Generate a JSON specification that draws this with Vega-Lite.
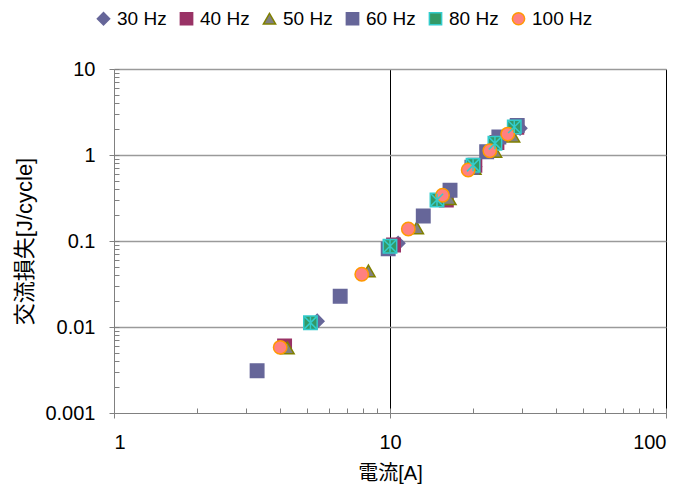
{
  "$schema": "https://vega.github.io/schema/vega-lite/v6.json",
  "width": 552,
  "height": 344,
  "autosize": "none",
  "padding": {"left": 114, "top": 69, "right": 18, "bottom": 78},
  "background": "white",
  "config": {
    "view": {"stroke": null}
  },
  "data": {"values": [
    {"freq": "30 Hz", "I": 5.45, "P": 0.0117},
    {"freq": "30 Hz", "I": 10.7, "P": 0.094},
    {"freq": "30 Hz", "I": 16.0, "P": 0.33},
    {"freq": "30 Hz", "I": 20.3, "P": 0.73},
    {"freq": "30 Hz", "I": 24.6, "P": 1.4},
    {"freq": "30 Hz", "I": 29.6, "P": 2.05},
    {"freq": "40 Hz", "I": 4.15, "P": 0.006},
    {"freq": "40 Hz", "I": 10.3, "P": 0.09},
    {"freq": "40 Hz", "I": 16.0, "P": 0.3},
    {"freq": "40 Hz", "I": 20.3, "P": 0.76},
    {"freq": "40 Hz", "I": 24.4, "P": 1.4},
    {"freq": "40 Hz", "I": 28.8, "P": 2.1},
    {"freq": "50 Hz", "I": 4.25, "P": 0.0057},
    {"freq": "50 Hz", "I": 8.35, "P": 0.045},
    {"freq": "50 Hz", "I": 12.5, "P": 0.142},
    {"freq": "50 Hz", "I": 16.4, "P": 0.31},
    {"freq": "50 Hz", "I": 20.2, "P": 0.7},
    {"freq": "50 Hz", "I": 24.0, "P": 1.1},
    {"freq": "50 Hz", "I": 27.9, "P": 1.65},
    {"freq": "60 Hz", "I": 3.3, "P": 0.0031},
    {"freq": "60 Hz", "I": 6.6, "P": 0.0228},
    {"freq": "60 Hz", "I": 9.85, "P": 0.081},
    {"freq": "60 Hz", "I": 13.2, "P": 0.195},
    {"freq": "60 Hz", "I": 16.5, "P": 0.39},
    {"freq": "60 Hz", "I": 19.8, "P": 0.72},
    {"freq": "60 Hz", "I": 22.4, "P": 1.09},
    {"freq": "60 Hz", "I": 24.8, "P": 1.62},
    {"freq": "60 Hz", "I": 28.9, "P": 2.2},
    {"freq": "80 Hz", "I": 5.15, "P": 0.0112},
    {"freq": "80 Hz", "I": 10.0, "P": 0.087},
    {"freq": "80 Hz", "I": 14.8, "P": 0.3},
    {"freq": "80 Hz", "I": 20.0, "P": 0.76},
    {"freq": "80 Hz", "I": 24.0, "P": 1.37},
    {"freq": "80 Hz", "I": 28.2, "P": 2.12},
    {"freq": "100 Hz", "I": 4.0, "P": 0.0058},
    {"freq": "100 Hz", "I": 7.9, "P": 0.041},
    {"freq": "100 Hz", "I": 11.65, "P": 0.138},
    {"freq": "100 Hz", "I": 15.5, "P": 0.34},
    {"freq": "100 Hz", "I": 19.2, "P": 0.67},
    {"freq": "100 Hz", "I": 23.0, "P": 1.12},
    {"freq": "100 Hz", "I": 26.7, "P": 1.75}
  ]},
  "resolve": {"axis": {"x": "independent", "y": "independent"}},
  "layer": [
    {
      "mark": {"type": "point", "opacity": 0},
      "encoding": {
        "x": {"field": "I", "type": "quantitative", "scale": {"type": "log", "domain": [1, 100], "nice": false},
              "axis": {"orient": "bottom", "values": [10, 100], "grid": true, "gridColor": "black", "gridWidth": 1, "ticks": false, "labels": false, "domain": false, "title": null}},
        "y": {"field": "P", "type": "quantitative", "scale": {"type": "log", "domain": [0.001, 10], "nice": false},
              "axis": {"orient": "left", "values": [0.01, 0.1, 1, 10], "grid": true, "gridColor": "#9a9a9a", "gridWidth": 1.5, "ticks": false, "labels": false, "domain": false, "title": null}}
      }
    },
    {
      "mark": {"type": "point", "opacity": 0},
      "encoding": {
        "x": {"field": "I", "type": "quantitative",
              "axis": {"orient": "bottom", "values": [1, 2, 3, 4, 5, 6, 7, 8, 9, 10, 20, 30, 40, 50, 60, 70, 80, 90, 100], "grid": false, "tickSize": -5, "tickColor": "#808080", "labels": false, "domain": false, "title": null}},
        "y": {"field": "P", "type": "quantitative",
              "axis": {"orient": "left", "values": [0.001, 0.002, 0.003, 0.004, 0.005, 0.006, 0.007, 0.008, 0.009, 0.01, 0.02, 0.03, 0.04, 0.05, 0.06, 0.07, 0.08, 0.09, 0.1, 0.2, 0.3, 0.4, 0.5, 0.6, 0.7, 0.8, 0.9, 1, 2, 3, 4, 5, 6, 7, 8, 9, 10], "grid": false, "tickSize": -5, "tickColor": "#808080", "labels": false, "domain": false, "title": null}}
      }
    },
    {
      "mark": {"type": "point", "filled": true, "opacity": 1, "strokeWidth": 1.5, "size": 180},
      "encoding": {
        "x": {"field": "I", "type": "quantitative",
              "axis": {"orient": "bottom", "values": [1, 10, 100], "format": "~g", "grid": false, "tickSize": 5, "tickColor": "#808080", "domainColor": "#808080", "labelFont": "Liberation Sans", "labelFontSize": 20, "labelColor": "black", "labelPadding": 14, "title": "電流[A]", "titleFont": "Liberation Sans, Noto Sans CJK JP", "titleFontSize": 20, "titleFontWeight": "normal", "titleColor": "black", "titlePadding": 11}},
        "y": {"field": "P", "type": "quantitative",
              "axis": {"orient": "left", "values": [0.001, 0.01, 0.1, 1, 10], "format": "~g", "grid": false, "tickSize": 5, "tickColor": "#808080", "domainColor": "#808080", "labelFont": "Liberation Sans", "labelFontSize": 20, "labelColor": "black", "labelPadding": 14, "title": "交流損失[J/cycle]", "titleFont": "Liberation Sans, Noto Sans CJK JP", "titleFontSize": 22, "titleFontWeight": "normal", "titleColor": "black", "titlePadding": 8}},
        "color": {"field": "freq", "type": "nominal",
                 "scale": {"domain": ["30 Hz", "40 Hz", "50 Hz", "60 Hz", "80 Hz", "100 Hz"], "range": ["#666699", "#993366", "#808080", "#666699", "#339966", "#ff8080"]},
                 "legend": {"title": null, "orient": "none", "legendX": -20, "legendY": -60, "direction": "horizontal", "labelFontSize": 19, "labelFont": "Liberation Sans", "labelColor": "black", "symbolSize": 150, "columnPadding": 10, "labelOffset": 4}},
        "shape": {"field": "freq", "type": "nominal",
                  "scale": {"domain": ["30 Hz", "40 Hz", "50 Hz", "60 Hz", "80 Hz", "100 Hz"], "range": ["diamond", "square", "triangle-up", "square", "square", "circle"]}},
        "stroke": {"field": "freq", "type": "nominal",
                   "scale": {"domain": ["30 Hz", "40 Hz", "50 Hz", "60 Hz", "80 Hz", "100 Hz"], "range": ["#666699", "#993366", "#808000", "#666699", "#33cccc", "#ff9900"]},
                   "legend": null}
      }
    },
    {
      "transform": [{"filter": "datum.freq === '80 Hz'"}],
      "mark": {"type": "point", "filled": false, "shape": "M-1,-1L1,1M1,-1L-1,1M0,-1L0,1", "size": 150, "stroke": "#33cccc", "strokeWidth": 1.5, "opacity": 1},
      "encoding": {
        "x": {"field": "I", "type": "quantitative", "axis": null},
        "y": {"field": "P", "type": "quantitative", "axis": null}
      }
    }
  ]
}
